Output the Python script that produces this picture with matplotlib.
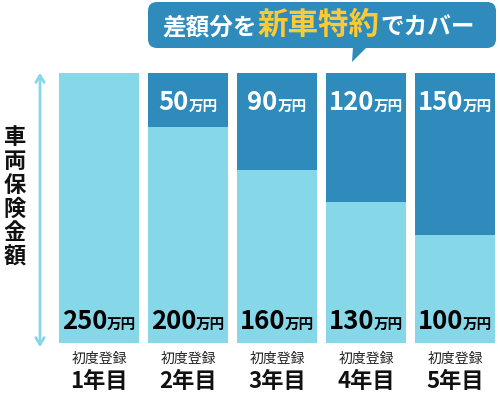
import matplotlib
matplotlib.use("Agg")
import matplotlib.pyplot as plt
from matplotlib.patches import FancyBboxPatch, Polygon, FancyArrowPatch
from matplotlib.offsetbox import TextArea, HPacker, AnnotationBbox

plt.rcParams["font.family"] = ["Noto Sans CJK JP", "DejaVu Sans"]

# データ
years = ["1年目", "2年目", "3年目", "4年目", "5年目"]
sub_label = "初度登録"
insured = [250, 200, 160, 130, 100]   # 車両保険金額
gap = [0, 50, 90, 120, 150]           # 新車特約でカバーする差額
unit = "万円"

LIGHT = "#86d7e8"
DARK = "#2e8bbb"
YELLOW = "#fdc934"

fig = plt.figure(figsize=(5, 3.97), dpi=100)

# 背景用の座標系 (ピクセル単位)
bg = fig.add_axes([0, 0, 1, 1])
bg.set_xlim(0, 500)
bg.set_ylim(397, 0)
bg.axis("off")

# 棒グラフ
ax = fig.add_axes([54.5 / 500, (397 - 343) / 397, 445 / 500, 270.3 / 397])
x = range(len(years))
ax.bar(x, insured, width=0.9, color=LIGHT)
ax.bar(x, gap, bottom=insured, width=0.9, color=DARK)
ax.set_xlim(-0.5, 4.5)
ax.set_ylim(0, 250)
ax.axis("off")


def value_label(i, y, value, color):
    num = TextArea(str(value), textprops=dict(fontsize=18.5, fontweight="bold", color=color))
    u = TextArea(unit, textprops=dict(fontsize=10.5, fontweight="bold", color=color))
    box = HPacker(children=[num, u], align="baseline", pad=0, sep=0)
    ab = AnnotationBbox(box, (i, y), frameon=False, box_alignment=(0.5, 0.5), pad=0)
    ax.add_artist(ab)


for i in x:
    value_label(i, 20, insured[i], "black")
    if gap[i] > 0:
        value_label(i, 222, gap[i], "white")
    cx = 99 + 89 * i
    bg.text(cx, 359, sub_label, fontsize=10, ha="center", va="center", color="#222222")
    bg.text(cx, 382, years[i], fontsize=16, fontweight="bold", ha="center", va="center", color="#111111")

# 縦軸ラベル
bg.text(15, 197, "\n".join("車両保険金額"), fontsize=16, fontweight="bold",
        ha="center", va="center", linespacing=1.05, color="#111111")

# 矢印
arrow = FancyArrowPatch((40, 70), (40, 350), arrowstyle="<->,head_length=5,head_width=3",
                        color=LIGHT, lw=2, mutation_scale=1)
bg.add_patch(arrow)

# 吹き出し
bubble = FancyBboxPatch((148, 2), 348, 46, boxstyle="round,pad=0,rounding_size=9",
                        facecolor=DARK, edgecolor="none")
bg.add_patch(bubble)
bg.add_patch(Polygon([(353, 47), (367, 47), (352, 62)], closed=True, facecolor=DARK, edgecolor="none"))

parts = [("差額分を", 17, "white", 28), ("新車特約", 22, YELLOW, 25), ("でカバー", 17, "white", 28)]
fig.canvas.draw()
renderer = fig.canvas.get_renderer()
cur = 162
for s, size, color, y in parts:
    t = bg.text(cur, y, s, fontsize=size, fontweight="bold", color=color, ha="left", va="center")
    w = t.get_window_extent(renderer).width
    cur += w + 1

fig.savefig("out.png", dpi=100)
